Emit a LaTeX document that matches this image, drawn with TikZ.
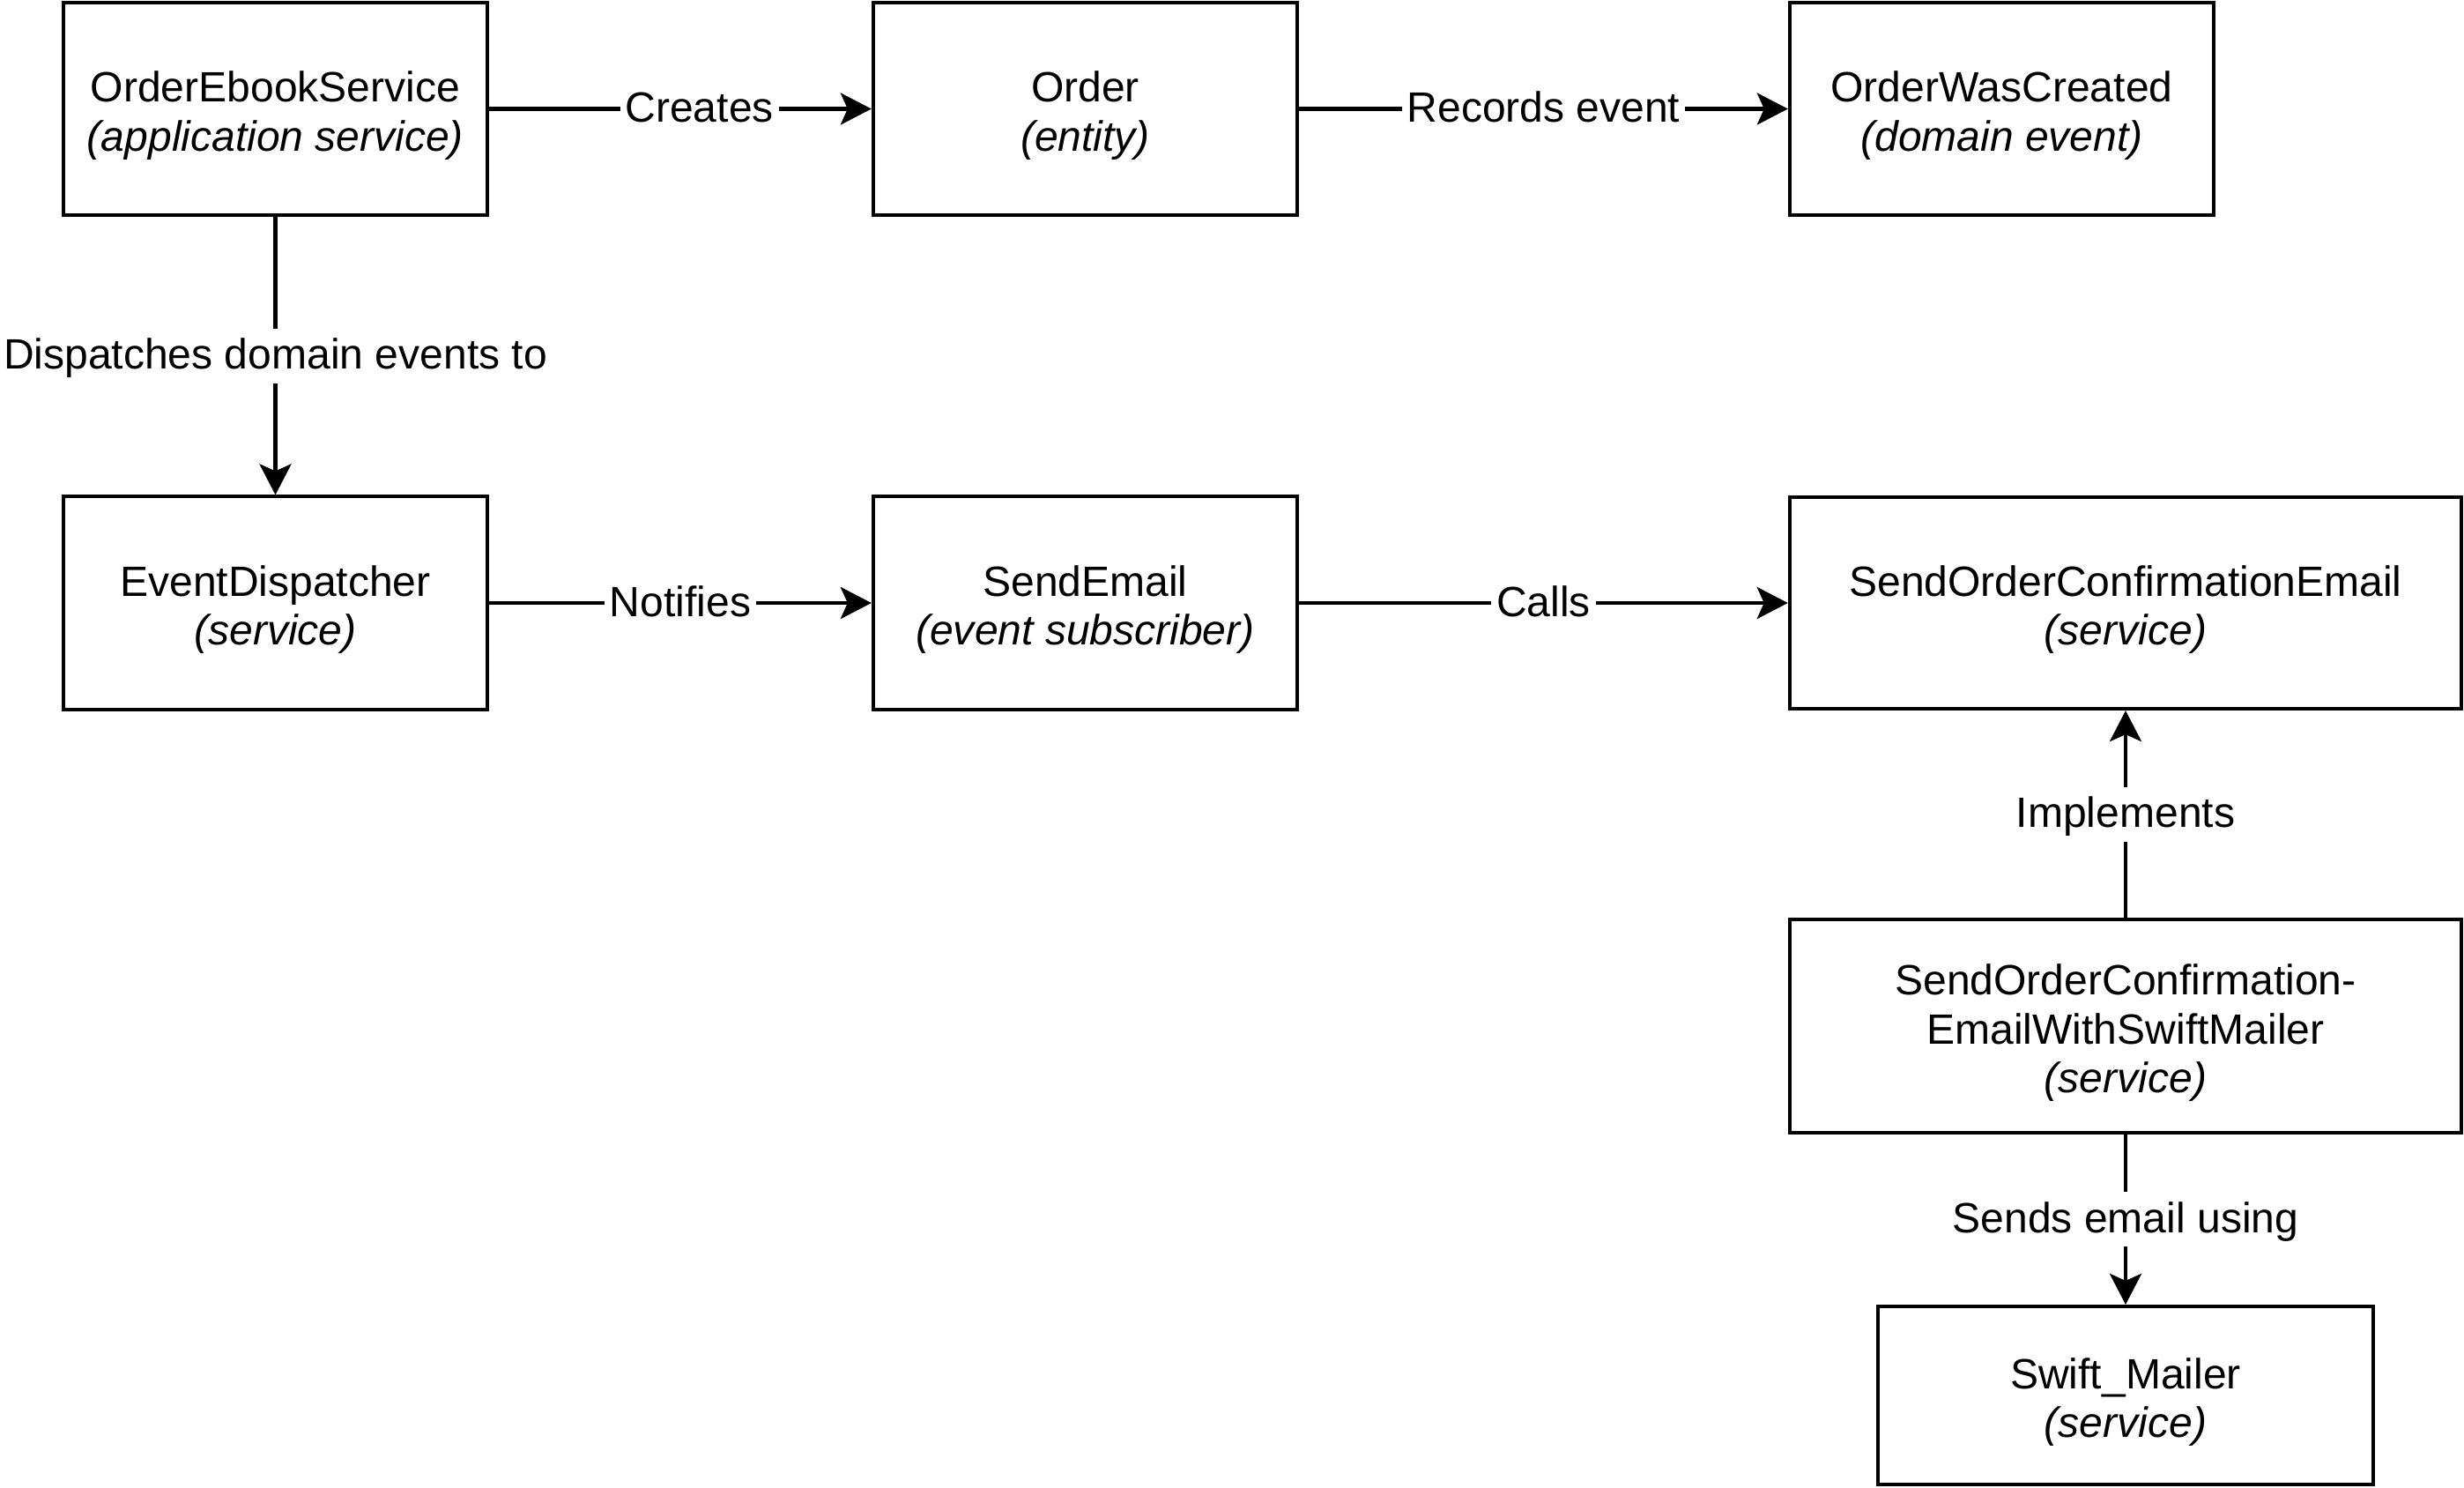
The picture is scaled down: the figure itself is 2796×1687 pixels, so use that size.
\documentclass[tikz,border=0pt]{standalone}
\usepackage{fontspec}
\setmainfont{Liberation Sans}
\usetikzlibrary{arrows.meta}
\begin{document}
\begin{tikzpicture}[x=0.01cm,y=-0.01cm,
  every node/.style={font=\fontsize{13.66pt}{15.88pt}\selectfont},
  box/.style={draw, line width=1.15pt, align=center, inner sep=0pt,
    minimum width=4.81cm, minimum height=2.41cm,
    text height=0.958cm, text depth=0cm},
  widebox/.style={box, minimum width=7.62cm},
  conn/.style={line width=1.15pt, -{Stealth[length=0.35cm,width=0.36cm,inset=0.08cm]}},
  lbl/.style={fill=white, inner xsep=0.06cm, inner ysep=0pt,
    text height=0.46cm, text depth=0.16cm}]
\useasboundingbox (0,0) rectangle (2796,1687);

\node[box] (oes) at (312.5,123.5) {OrderEbookService\\\textit{(application service)}};
\node[box] (ord) at (1231.5,123.5) {Order\\\textit{(entity)}};
\node[box] (owc) at (2271.5,123.5) {OrderWasCreated\\\textit{(domain event)}};
\node[box] (evd) at (312.5,684) {EventDispatcher\\\textit{(service)}};
\node[box] (sem) at (1231.5,684) {SendEmail\\\textit{(event subscriber)}};
\node[widebox, minimum height=2.40cm] (soce) at (2412,684) {SendOrderConfirmationEmail\\\textit{(service)}};
\node[widebox, text height=1.516cm] (socesm) at (2412,1164) {SendOrderConfirmation-\\EmailWithSwiftMailer\\\textit{(service)}};
\node[box, minimum width=5.62cm, minimum height=2.02cm] (swm) at (2412,1583) {Swift\_Mailer\\\textit{(service)}};

\draw[conn] (oes) -- node[lbl, pos=0.55] {Creates} (ord);
\draw[conn] (ord) -- node[lbl] {Records event} (owc);
\draw[conn] (oes) -- node[lbl] {Dispatches domain events to} (evd);
\draw[conn] (evd) -- node[lbl] {Notifies} (sem);
\draw[conn] (sem) -- node[lbl] {Calls} (soce);
\draw[conn] (socesm) -- node[lbl] {Implements} (soce);
\draw[conn] (socesm) -- node[lbl] {Sends email using} (swm);
\end{tikzpicture}
\end{document}
